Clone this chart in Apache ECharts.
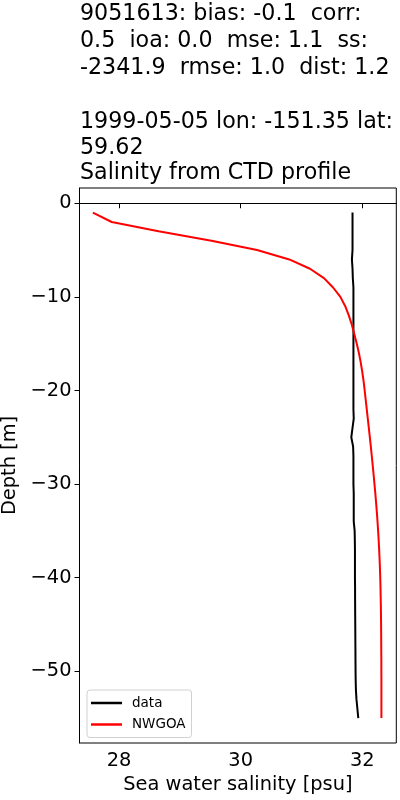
<!DOCTYPE html>
<html><head><meta charset="utf-8">
<script src="https://cdn.jsdelivr.net/npm/echarts@6/dist/echarts.min.js"></script>
<style>html,body{margin:0;padding:0;background:#fff}#c{width:400px;height:800px}</style>
</head><body><div id="c"></div>
<script>
const depths = [-1,-2,-3,-4,-5,-6,-7,-8,-9,-10,-11,-12,-13,-14,-15,-16,-17,-18,-19,-20,-21,-22,-23,-24,-25,-26,-27,-28,-29,-30,-31,-32,-33,-34,-35,-36,-37,-38,-39,-40,-41,-42,-43,-44,-45,-46,-47,-48,-49,-50,-51,-52,-53,-54,-55];
const dataSal = [31.84,31.84,31.84,31.84,31.84,31.83,31.84,31.845,31.855,31.855,31.855,31.855,31.855,31.855,31.855,31.855,31.855,31.855,31.855,31.855,31.855,31.855,31.86,31.84,31.82,31.85,31.855,31.855,31.855,31.855,31.86,31.86,31.86,31.86,31.875,31.878,31.88,31.88,31.88,31.88,31.882,31.882,31.883,31.884,31.885,31.886,31.887,31.888,31.889,31.89,31.892,31.896,31.905,31.92,31.935];
const modelSal = [27.57,27.88,28.65,29.52,30.27,30.8,31.14,31.37,31.52,31.64,31.72,31.78,31.83,31.87,31.91,31.945,31.975,32.0,32.022,32.04,32.057,32.074,32.091,32.108,32.125,32.141,32.157,32.172,32.187,32.201,32.215,32.228,32.24,32.251,32.261,32.27,32.278,32.285,32.291,32.296,32.3,32.303,32.306,32.308,32.31,32.311,32.312,32.313,32.314,32.314,32.315,32.315,32.315,32.315,32.315];
const xTicks = [28, 30, 32];
const yTicks = [-50, -40, -30, -20, -10, 0];
const titleLines = [
  '9051613: bias: -0.1  corr:',
  '0.5  ioa: 0.0  mse: 1.1  ss:',
  '-2341.9  rmse: 1.0  dist: 1.2',
  '1999-05-05 lon: -151.35 lat:',
  '59.62',
  'Salinity from CTD profile'
];
const titleTops = [3, 30.5, 57.5, 111.5, 137.5, 162.5];
const seriesNames = ['data', 'NWGOA'];

const FONT = 'DejaVu Sans';
const minus = v => String(v).replace('-', '\u2212');
const chart = echarts.init(document.getElementById('c'), null, {renderer: 'canvas'});
chart.setOption({
  animation: false,
  backgroundColor: '#fff',
  textStyle: {fontFamily: FONT},
  graphic: titleLines.map((t, i) => ({
    type: 'text', left: 80, top: titleTops[i],
    style: {text: t, font: '22.2px "DejaVu Sans"', fill: '#000'}
  })),
  grid: {left: 79.5, right: 3.7, top: 188, bottom: 57, show: true, borderColor: '#000', borderWidth: 1, containLabel: false, outerBoundsMode: 'none'},
  xAxis: {
    type: 'value', min: 27.35, max: 32.56,
    name: 'Sea water salinity [psu]', nameLocation: 'middle', nameGap: 32,
    nameTextStyle: {fontSize: 19.4, color: '#000', fontFamily: FONT},
    axisLine: {show: true, lineStyle: {color: '#000', width: 1}},
    axisTick: {show: true, length: 5, lineStyle: {color: '#000'}, customValues: xTicks},
    axisLabel: {fontSize: 19.4, color: '#000', margin: 8, customValues: xTicks, formatter: minus},
    splitLine: {show: false}
  },
  yAxis: {
    type: 'value', min: -57.66, max: 1.63,
    name: 'Depth [m]', nameLocation: 'middle', nameGap: 55, nameRotate: 90,
    nameTextStyle: {fontSize: 19.4, color: '#000', fontFamily: FONT},
    axisLine: {show: true, lineStyle: {color: '#000', width: 1}},
    axisTick: {show: true, length: 5, lineStyle: {color: '#000'}, customValues: yTicks},
    axisLabel: {fontSize: 19.4, color: '#000', margin: 8, customValues: yTicks, formatter: minus},
    splitLine: {show: false}
  },
  legend: {
    orient: 'vertical', left: 87, top: 690,
    data: [{name: seriesNames[0], icon: 'rect'}, {name: seriesNames[1], icon: 'rect'}],
    itemWidth: 31, itemHeight: 2.5, itemGap: 7.5,
    textStyle: {fontSize: 13.5, color: '#000', fontFamily: FONT, padding: [0, 0, 0, 5]},
    borderColor: '#d0d0d0', borderWidth: 1, borderRadius: 3,
    padding: [6, 6, 6, 4], backgroundColor: 'rgba(255,255,255,0.8)'
  },
  series: [
    {name: seriesNames[0], type: 'line', showSymbol: false, symbol: 'none',
     lineStyle: {color: '#000', width: 2}, itemStyle: {color: '#000'},
     data: depths.map((d, i) => [dataSal[i], d])},
    {name: seriesNames[1], type: 'line', showSymbol: false, symbol: 'none',
     lineStyle: {color: '#ff0000', width: 2}, itemStyle: {color: '#ff0000'},
     data: depths.map((d, i) => [modelSal[i], d])}
  ]
});
</script></body></html>
